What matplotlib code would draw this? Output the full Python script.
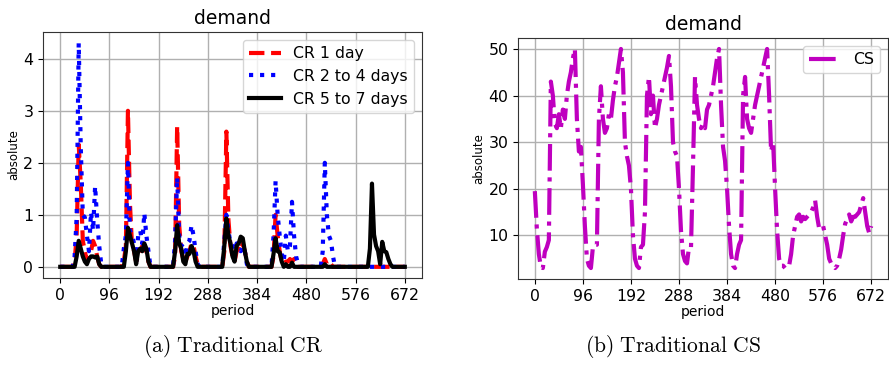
import numpy as np
import matplotlib.pyplot as plt

plt.rcParams['mathtext.fontset'] = 'cm'

# hourly samples (every 4 periods), one row per day
periods = np.arange(0, 673, 4)

cr_1day = (
    [0] * 7 + [0.1, 0.6, 2.35, 1.6, 0.5, 0.3, 0.1, 0.2, 0.3, 0.5, 0.4, 0.2, 0.05] + [0] * 4
    + [0] * 7 + [0.1, 0.4, 3.0, 1.2, 0.4, 0.3, 0.1, 0.2, 0.3, 0.4, 0.35, 0.3, 0.1] + [0] * 4
    + [0] * 8 + [0.2, 2.7, 0.8, 0.3, 0.15, 0.1, 0.2, 0.3, 0.45, 0.4, 0.2, 0.05] + [0] * 4
    + [0] * 8 + [0.3, 2.6, 0.9, 0.4, 0.2, 0.1, 0.3, 0.35, 0.3, 0.45, 0.3, 0.1] + [0] * 4
    + [0] * 8 + [0.2, 1.0, 0.6, 0.3, 0.1, 0.05, 0.1, 0.1, 0.15, 0.1, 0.15, 0.05] + [0] * 4
    + [0] * 8 + [0.05, 0.15, 0.05, 0.1, 0.05] + [0] * 11
    + [0] * 24 + [0]
)

cr_2to4 = (
    [0] * 7 + [0.2, 0.95, 4.3, 2.3, 1.0, 0.95, 0.6, 0.3, 1.05, 0.7, 1.55, 0.9, 0.4, 0.05] + [0] * 3
    + [0] * 7 + [0.35, 0.6, 2.0, 0.7, 0.6, 0.45, 0.1, 0.6, 0.7, 0.45, 1.03, 0.6, 0.3] + [0] * 4
    + [0] * 8 + [0.5, 1.72, 0.6, 0.4, 0.45, 0.2, 0.45, 0.5, 0.8, 0.6, 0.3, 0.05] + [0] * 4
    + [0] * 8 + [0.5, 1.0, 0.7, 0.45, 0.4, 0.2, 0.45, 0.35, 0.3, 0.4, 0.3, 0.05] + [0] * 4
    + [0] * 8 + [0.6, 1.65, 1.0, 0.6, 0.25, 0.1, 0.6, 0.3, 0.4, 1.25, 0.6, 0.2, 0.05] + [0] * 3
    + [0] * 8 + [0.3, 2.0, 1.0, 0.6, 0.5, 0.2] + [0] * 10
    + [0] * 24 + [0]
)

cr_5to7 = (
    [0] * 8 + [0.2, 0.5, 0.35, 0.2, 0.1, 0.05, 0.15, 0.2, 0.2, 0.18, 0.2, 0.05] + [0] * 4
    + [0] * 8 + [0.3, 0.75, 0.6, 0.45, 0.3, 0.05, 0.3, 0.35, 0.3, 0.45, 0.35, 0.1] + [0] * 4
    + [0] * 8 + [0.3, 0.8, 0.45, 0.35, 0.1, 0.05, 0.25, 0.25, 0.4, 0.3, 0.1] + [0] * 5
    + [0] * 8 + [0.4, 0.93, 0.6, 0.45, 0.2, 0.1, 0.4, 0.45, 0.58, 0.55, 0.3, 0.1] + [0] * 4
    + [0] * 8 + [0.25, 0.55, 0.3, 0.28, 0.1, 0, 0.05, 0, 0, 0.08] + [0] * 6
    + [0] * 9 + [0.05] + [0] * 14
    + [0] * 7 + [0.35, 1.6, 0.62, 0.4, 0.3, 0.05, 0.48, 0.3, 0.28, 0.15, 0.05] + [0] * 6 + [0]
)

cs = [
    19.5, 11.5, 6, 3.2, 3.0, 6.5, 7.5, 9, 43, 40, 34, 33, 36, 33, 37, 35, 40, 43, 45, 48, 50, 35, 28, 29,
    21, 12, 5, 3.5, 3, 7.5, 8, 8, 35, 42, 35, 32, 33, 36, 35, 39, 42, 44, 47, 50, 45, 30, 27, 25,
    20, 10, 5, 3.5, 3, 7.5, 8, 15, 40, 44, 36, 40, 33, 35, 38, 40, 42, 44, 46, 48.5, 42, 30, 28, 27,
    20, 11, 6, 4.5, 4, 7.5, 7.5, 25, 44, 38, 35, 33, 34, 33, 37, 38, 40, 42, 45, 48, 50, 38, 29, 26,
    20, 12, 6, 3.5, 3, 6, 8, 9, 40, 44, 35, 33, 32, 35, 38, 40, 42, 44, 46, 48, 50, 40, 28, 30,
    20, 11, 5, 3.5, 3.5, 3, 3, 3.5, 6, 10, 12, 14, 14.5, 13, 14, 13.5, 14, 14.5, 15, 16, 17.5, 14, 11.5, 11.5,
    12, 10, 8, 5, 4, 3.5, 3, 3.5, 5, 7, 10, 12.5, 13.5, 14.5, 13, 14, 14, 14.5, 15, 16.5, 18, 15, 12, 10.5,
    12,
]

tick_pos = list(range(0, 673, 96))

fig = plt.figure(figsize=(8.89, 3.69), dpi=100)
ax1 = fig.add_axes([0.0484, 0.2466, 0.4263, 0.6667])
ax2 = fig.add_axes([0.5827, 0.2439, 0.4162, 0.6531])

ax1.plot(periods, cr_1day, 'r--', lw=3, label='CR 1 day')
ax1.plot(periods, cr_2to4, 'b:', lw=3, label='CR 2 to 4 days')
ax1.plot(periods, cr_5to7, 'k-', lw=3, label='CR 5 to 7 days')

ax2.plot(periods, cs, 'm-.', lw=3, label='CS')

for ax in (ax1, ax2):
    ax.set_title('demand', fontsize=13.5)
    ax.set_xlabel('period', fontsize=10, labelpad=1)
    ax.set_ylabel('absolute', fontsize=8.5, labelpad=2)
    ax.set_xticks(tick_pos)
    ax.tick_params(labelsize=11.3)
    ax.grid(True, color='#b0b0b0', lw=1)
    ax.legend(loc='upper right', fontsize=11.3)
    for s in ax.spines.values():
        s.set_color('#333333')

ax1.set_yticks([0, 1, 2, 3, 4])
ax2.set_yticks([10, 20, 30, 40, 50])

fig.text(0.262, 0.06, r'$\mathrm{(a)\ Traditional\ CR}$', ha='center', va='center', fontsize=15.5)
fig.text(0.757, 0.06, r'$\mathrm{(b)\ Traditional\ CS}$', ha='center', va='center', fontsize=15.5)

fig.savefig('out.png', dpi=100)
